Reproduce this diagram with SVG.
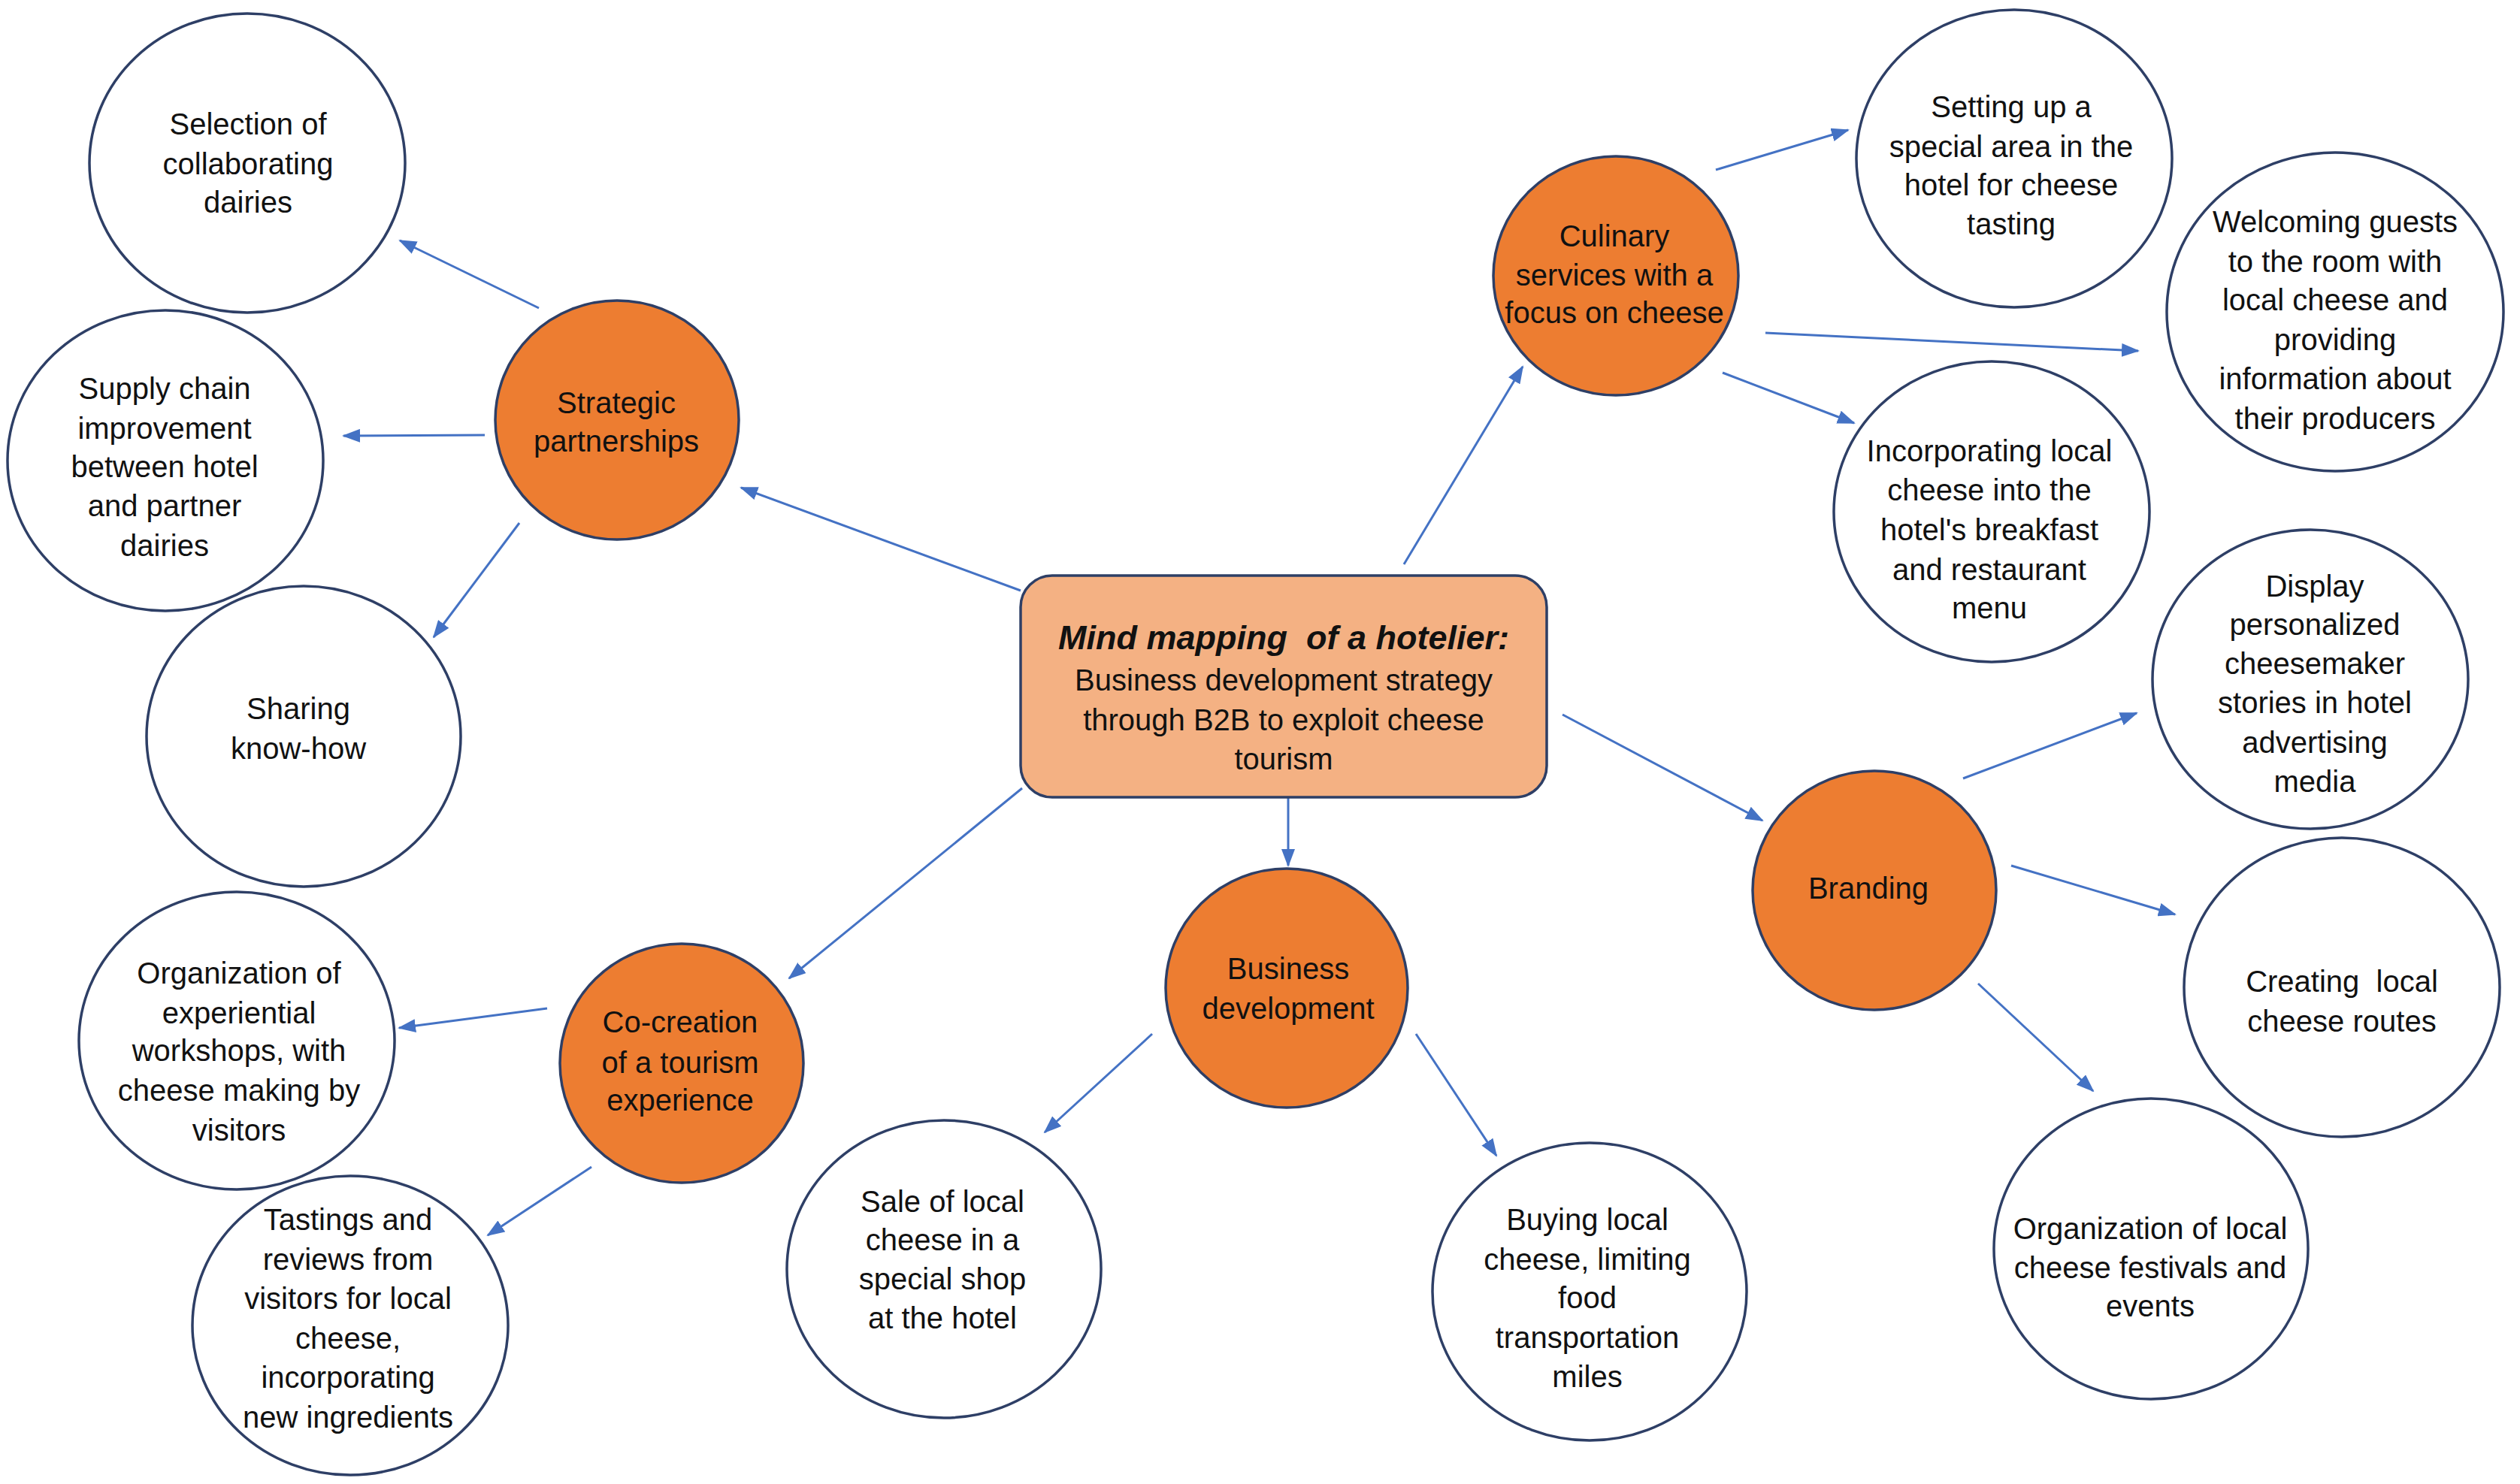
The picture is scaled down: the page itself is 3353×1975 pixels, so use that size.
<svg xmlns="http://www.w3.org/2000/svg" width="3353" height="1975" viewBox="0 0 3353 1975">
<style>
.leaf{fill:#fff;stroke:#2E3F66;stroke-width:3.5}
.main{fill:#ED7D31;stroke:#2E3F66;stroke-width:3.5}
.t{font-family:"Liberation Sans",Arial,sans-serif;font-size:40px;fill:#111;text-anchor:middle}
.ttl{font-weight:bold;font-style:italic;font-size:45px}
.c{stroke:#4472C4;stroke-width:3;fill:none;marker-end:url(#ah)}
</style>
<defs>
<marker id="ah" markerUnits="userSpaceOnUse" markerWidth="24" markerHeight="18" refX="22" refY="9" orient="auto">
<path d="M0,0 L24,9 L0,18 z" fill="#4472C4"/>
</marker>
</defs>
<rect width="3353" height="1975" fill="#fff"/>
<g id="connectors">
<line class="c" x1="1358" y1="786" x2="986" y2="649"/>
<line class="c" x1="1868" y1="751" x2="2026" y2="488"/>
<line class="c" x1="2079" y1="951" x2="2345" y2="1092"/>
<line class="c" x1="1714" y1="1062" x2="1714" y2="1152"/>
<line class="c" x1="1360" y1="1049" x2="1050" y2="1302"/>
<line class="c" x1="717" y1="410" x2="532" y2="320"/>
<line class="c" x1="645" y1="579" x2="457" y2="580"/>
<line class="c" x1="691" y1="696" x2="577" y2="848"/>
<line class="c" x1="2283" y1="226" x2="2459" y2="173"/>
<line class="c" x1="2349" y1="443" x2="2845" y2="467"/>
<line class="c" x1="2292" y1="496" x2="2467" y2="563"/>
<line class="c" x1="2612" y1="1036" x2="2843" y2="949"/>
<line class="c" x1="2676" y1="1152" x2="2894" y2="1217"/>
<line class="c" x1="2632" y1="1309" x2="2785" y2="1452"/>
<line class="c" x1="728" y1="1342" x2="531" y2="1368"/>
<line class="c" x1="787" y1="1553" x2="649" y2="1644"/>
<line class="c" x1="1533" y1="1376" x2="1390" y2="1507"/>
<line class="c" x1="1884" y1="1376" x2="1991" y2="1538"/>
</g>
<g id="center">
<rect x="1358" y="766" width="700" height="295" rx="42" fill="#F4B183" stroke="#2E3F66" stroke-width="3.5"/>
<text class="t ttl" x="1708" y="864" xml:space="preserve">Mind mapping  of a hotelier:</text>
<text class="t" x="1708" y="919">Business development strategy</text>
<text class="t" x="1708" y="972">through B2B to exploit cheese</text>
<text class="t" x="1708" y="1024">tourism</text>
</g>
<g id="strategic">
<ellipse class="main" cx="821" cy="559" rx="162" ry="159"/>
<text class="t" x="820" y="550">Strategic</text>
<text class="t" x="820" y="601">partnerships</text>
</g>
<g id="selection">
<ellipse class="leaf" cx="329" cy="217" rx="210" ry="199"/>
<text class="t" x="330" y="179">Selection of</text>
<text class="t" x="330" y="232">collaborating</text>
<text class="t" x="330" y="283">dairies</text>
</g>
<g id="supply">
<ellipse class="leaf" cx="220" cy="613" rx="210" ry="200"/>
<text class="t" x="219" y="531">Supply chain</text>
<text class="t" x="219" y="584">improvement</text>
<text class="t" x="219" y="635">between hotel</text>
<text class="t" x="219" y="687">and partner</text>
<text class="t" x="219" y="740">dairies</text>
</g>
<g id="sharing">
<ellipse class="leaf" cx="404" cy="980" rx="209" ry="200"/>
<text class="t" x="397" y="957">Sharing</text>
<text class="t" x="397" y="1010">know-how</text>
</g>
<g id="culinary">
<ellipse class="main" cx="2150" cy="367" rx="163" ry="159"/>
<text class="t" x="2148" y="328">Culinary</text>
<text class="t" x="2148" y="380">services with a</text>
<text class="t" x="2148" y="430">focus on cheese</text>
</g>
<g id="setting">
<ellipse class="leaf" cx="2680" cy="211" rx="210" ry="198"/>
<text class="t" x="2676" y="156">Setting up a</text>
<text class="t" x="2676" y="209">special area in the</text>
<text class="t" x="2676" y="260">hotel for cheese</text>
<text class="t" x="2676" y="312">tasting</text>
</g>
<g id="welcoming">
<ellipse class="leaf" cx="3107" cy="415" rx="224" ry="212"/>
<text class="t" x="3107" y="309">Welcoming guests</text>
<text class="t" x="3107" y="362">to the room with</text>
<text class="t" x="3107" y="413">local cheese and</text>
<text class="t" x="3107" y="466">providing</text>
<text class="t" x="3107" y="518">information about</text>
<text class="t" x="3107" y="571">their producers</text>
</g>
<g id="incorporating">
<ellipse class="leaf" cx="2650" cy="681" rx="210" ry="200"/>
<text class="t" x="2647" y="614">Incorporating local</text>
<text class="t" x="2647" y="666">cheese into the</text>
<text class="t" x="2647" y="719">hotel's breakfast</text>
<text class="t" x="2647" y="772">and restaurant</text>
<text class="t" x="2647" y="823">menu</text>
</g>
<g id="branding">
<ellipse class="main" cx="2494" cy="1185" rx="162" ry="159"/>
<text class="t" x="2486" y="1196">Branding</text>
</g>
<g id="display">
<ellipse class="leaf" cx="3074" cy="904" rx="210" ry="199"/>
<text class="t" x="3080" y="794">Display</text>
<text class="t" x="3080" y="845">personalized</text>
<text class="t" x="3080" y="897">cheesemaker</text>
<text class="t" x="3080" y="949">stories in hotel</text>
<text class="t" x="3080" y="1002">advertising</text>
<text class="t" x="3080" y="1054">media</text>
</g>
<g id="creating">
<ellipse class="leaf" cx="3116" cy="1314" rx="210" ry="199"/>
<text class="t" x="3116" y="1320" xml:space="preserve">Creating  local</text>
<text class="t" x="3116" y="1373">cheese routes</text>
</g>
<g id="festivals">
<ellipse class="leaf" cx="2862" cy="1662" rx="209" ry="200"/>
<text class="t" x="2861" y="1649">Organization of local</text>
<text class="t" x="2861" y="1701">cheese festivals and</text>
<text class="t" x="2861" y="1752">events</text>
</g>
<g id="business">
<ellipse class="main" cx="1712" cy="1315" rx="161" ry="159"/>
<text class="t" x="1714" y="1303">Business</text>
<text class="t" x="1714" y="1356">development</text>
</g>
<g id="sale">
<ellipse class="leaf" cx="1256" cy="1689" rx="209" ry="198"/>
<text class="t" x="1254" y="1613">Sale of local</text>
<text class="t" x="1254" y="1664">cheese in a</text>
<text class="t" x="1254" y="1716">special shop</text>
<text class="t" x="1254" y="1768">at the hotel</text>
</g>
<g id="buying">
<ellipse class="leaf" cx="2115" cy="1719" rx="209" ry="198"/>
<text class="t" x="2112" y="1637">Buying local</text>
<text class="t" x="2112" y="1690">cheese, limiting</text>
<text class="t" x="2112" y="1741">food</text>
<text class="t" x="2112" y="1794">transportation</text>
<text class="t" x="2112" y="1846">miles</text>
</g>
<g id="cocreation">
<ellipse class="main" cx="907" cy="1415" rx="162" ry="159"/>
<text class="t" x="905" y="1374">Co-creation</text>
<text class="t" x="905" y="1428">of a tourism</text>
<text class="t" x="905" y="1478">experience</text>
</g>
<g id="workshops">
<ellipse class="leaf" cx="315" cy="1385" rx="210" ry="198"/>
<text class="t" x="318" y="1309">Organization of</text>
<text class="t" x="318" y="1362">experiential</text>
<text class="t" x="318" y="1412">workshops, with</text>
<text class="t" x="318" y="1465">cheese making by</text>
<text class="t" x="318" y="1518">visitors</text>
</g>
<g id="tastings">
<ellipse class="leaf" cx="466" cy="1764" rx="210" ry="199"/>
<text class="t" x="463" y="1637">Tastings and</text>
<text class="t" x="463" y="1690">reviews from</text>
<text class="t" x="463" y="1742">visitors for local</text>
<text class="t" x="463" y="1795">cheese,</text>
<text class="t" x="463" y="1847">incorporating</text>
<text class="t" x="463" y="1900">new ingredients</text>
</g>
</svg>
